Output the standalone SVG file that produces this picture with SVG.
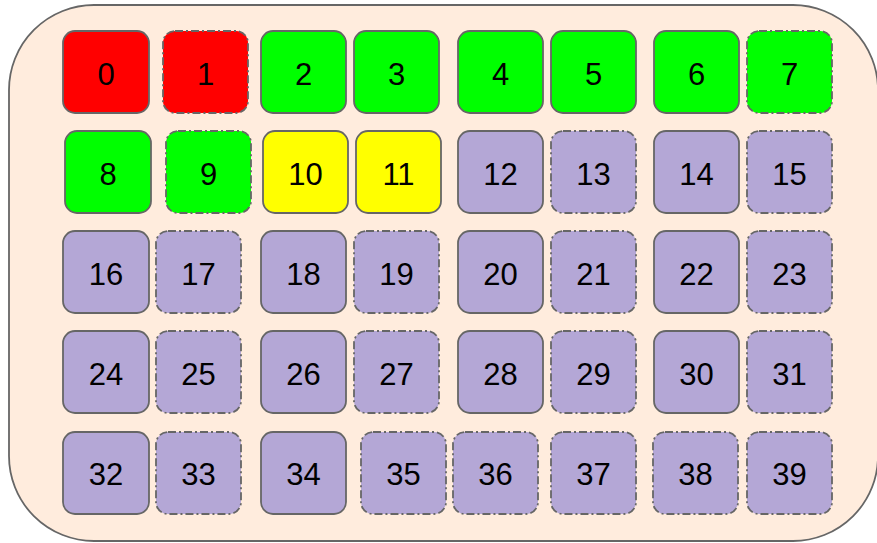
<svg xmlns="http://www.w3.org/2000/svg" width="877" height="543" viewBox="0 0 877 543">
<style>
.n rect{stroke:#666666;stroke-width:1.8}
.d rect{stroke-dasharray:8 3 2 3}
.r rect{fill:#ff0000}
.g rect{fill:#00ff00}
.y rect{fill:#ffff00}
.p rect{fill:#b4a7d6}
text{font-family:"Liberation Sans",Arial,sans-serif;font-size:31px;fill:#000;text-anchor:middle}
</style>
<rect id="container" x="9" y="5" width="869" height="536" rx="85" ry="85" fill="#ffecdd" stroke="#666666" stroke-width="1.8"/>
<g id="connectors"/>
<g id="n0" class="n r"><rect x="63" y="31" width="86" height="82" rx="12"/><text x="106" y="84.5">0</text></g>
<g id="n1" class="n r d"><rect x="163" y="31" width="85" height="82" rx="12"/><text x="205.5" y="84.5">1</text></g>
<g id="n2" class="n g"><rect x="261" y="31" width="85" height="82" rx="12"/><text x="303.5" y="84.5">2</text></g>
<g id="n3" class="n g"><rect x="354" y="31" width="85" height="82" rx="12"/><text x="396.5" y="84.5">3</text></g>
<g id="n4" class="n g"><rect x="458" y="31" width="85" height="82" rx="12"/><text x="500.5" y="84.5">4</text></g>
<g id="n5" class="n g"><rect x="551" y="31" width="85" height="82" rx="12"/><text x="593.5" y="84.5">5</text></g>
<g id="n6" class="n g"><rect x="654" y="31" width="85" height="82" rx="12"/><text x="696.5" y="84.5">6</text></g>
<g id="n7" class="n g d"><rect x="747" y="31" width="85" height="82" rx="12"/><text x="789.5" y="84.5">7</text></g>

<g id="n8" class="n g"><rect x="65" y="131" width="86" height="82" rx="12"/><text x="108" y="184.5">8</text></g>
<g id="n9" class="n g d"><rect x="166" y="131" width="85" height="82" rx="12"/><text x="208.5" y="184.5">9</text></g>
<g id="n10" class="n y"><rect x="263" y="131" width="85" height="82" rx="12"/><text x="305.5" y="184.5">10</text></g>
<g id="n11" class="n y"><rect x="356" y="131" width="85" height="82" rx="12"/><text x="398.5" y="184.5">11</text></g>
<g id="n12" class="n p"><rect x="458" y="131" width="85" height="82" rx="12"/><text x="500.5" y="184.5">12</text></g>
<g id="n13" class="n p d"><rect x="551" y="131" width="85" height="82" rx="12"/><text x="593.5" y="184.5">13</text></g>
<g id="n14" class="n p"><rect x="654" y="131" width="85" height="82" rx="12"/><text x="696.5" y="184.5">14</text></g>
<g id="n15" class="n p d"><rect x="747" y="131" width="85" height="82" rx="12"/><text x="789.5" y="184.5">15</text></g>

<g id="n16" class="n p"><rect x="63" y="231" width="86" height="82" rx="12"/><text x="106" y="284.5">16</text></g>
<g id="n17" class="n p d"><rect x="156" y="231" width="85" height="82" rx="12"/><text x="198.5" y="284.5">17</text></g>
<g id="n18" class="n p"><rect x="261" y="231" width="85" height="82" rx="12"/><text x="303.5" y="284.5">18</text></g>
<g id="n19" class="n p d"><rect x="354" y="231" width="85" height="82" rx="12"/><text x="396.5" y="284.5">19</text></g>
<g id="n20" class="n p"><rect x="458" y="231" width="85" height="82" rx="12"/><text x="500.5" y="284.5">20</text></g>
<g id="n21" class="n p d"><rect x="551" y="231" width="85" height="82" rx="12"/><text x="593.5" y="284.5">21</text></g>
<g id="n22" class="n p"><rect x="654" y="231" width="85" height="82" rx="12"/><text x="696.5" y="284.5">22</text></g>
<g id="n23" class="n p d"><rect x="747" y="231" width="85" height="82" rx="12"/><text x="789.5" y="284.5">23</text></g>

<g id="n24" class="n p"><rect x="63" y="331" width="86" height="82" rx="12"/><text x="106" y="384.5">24</text></g>
<g id="n25" class="n p d"><rect x="156" y="331" width="85" height="82" rx="12"/><text x="198.5" y="384.5">25</text></g>
<g id="n26" class="n p"><rect x="261" y="331" width="85" height="82" rx="12"/><text x="303.5" y="384.5">26</text></g>
<g id="n27" class="n p d"><rect x="354" y="331" width="85" height="82" rx="12"/><text x="396.5" y="384.5">27</text></g>
<g id="n28" class="n p"><rect x="458" y="331" width="85" height="82" rx="12"/><text x="500.5" y="384.5">28</text></g>
<g id="n29" class="n p d"><rect x="551" y="331" width="85" height="82" rx="12"/><text x="593.5" y="384.5">29</text></g>
<g id="n30" class="n p"><rect x="654" y="331" width="85" height="82" rx="12"/><text x="696.5" y="384.5">30</text></g>
<g id="n31" class="n p d"><rect x="747" y="331" width="85" height="82" rx="12"/><text x="789.5" y="384.5">31</text></g>

<g id="n32" class="n p"><rect x="63" y="432" width="86" height="82" rx="12"/><text x="106" y="485">32</text></g>
<g id="n33" class="n p d"><rect x="156" y="432" width="85" height="82" rx="12"/><text x="198.5" y="485">33</text></g>
<g id="n34" class="n p"><rect x="261" y="432" width="85" height="82" rx="12"/><text x="303.5" y="485">34</text></g>
<g id="n35" class="n p d"><rect x="361" y="432" width="85" height="82" rx="12"/><text x="403.5" y="485">35</text></g>
<g id="n36" class="n p d"><rect x="453" y="432" width="85" height="82" rx="12"/><text x="495.5" y="485">36</text></g>
<g id="n37" class="n p d"><rect x="551" y="432" width="85" height="82" rx="12"/><text x="593.5" y="485">37</text></g>
<g id="n38" class="n p d"><rect x="653" y="432" width="85" height="82" rx="12"/><text x="695.5" y="485">38</text></g>
<g id="n39" class="n p d"><rect x="747" y="432" width="85" height="82" rx="12"/><text x="789.5" y="485">39</text></g>
</svg>
